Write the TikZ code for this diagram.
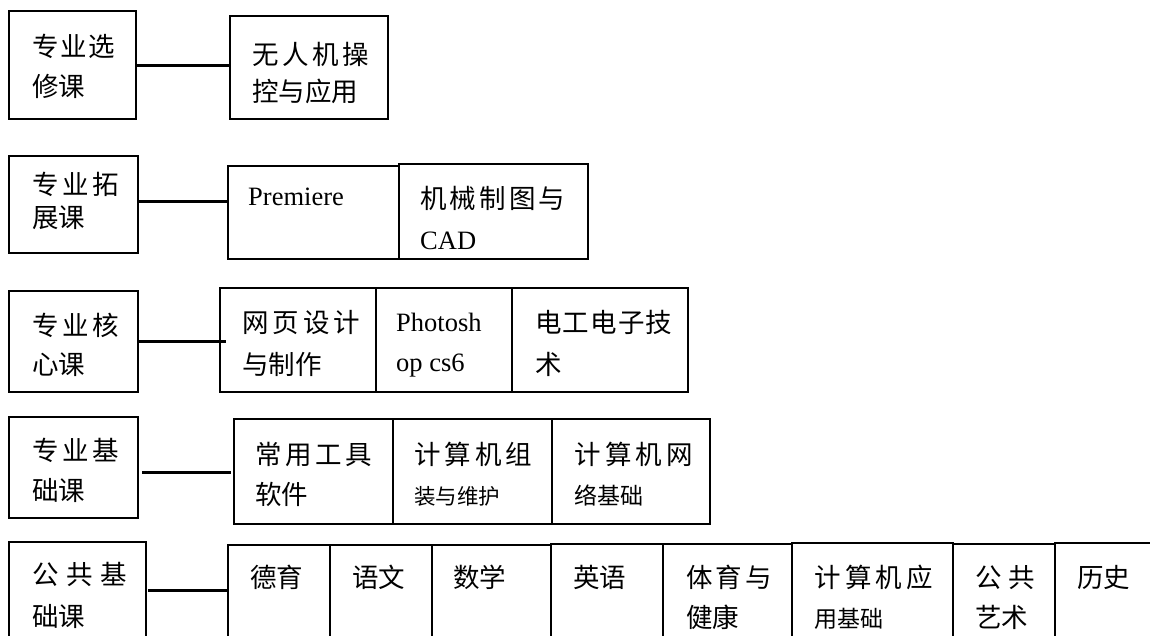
\documentclass[tikz,border=0pt]{standalone}
\usepackage{fontspec}
\setmainfont{Liberation Serif}
\newfontfamily\cjk{Noto Sans CJK SC}
\usetikzlibrary{calc}
\newcommand\sprd[2]{\makebox[#1][s]{#2}}
\newcommand\bx[5]{\node[box, minimum width={(#4-#2)*1pt}, minimum height={(#5-#3)*1pt}] (#1) at ({(#2+#4)/2},{(#3+#5)/2}) {};}
\begin{document}
\begin{tikzpicture}[x=1pt,y=-1pt,
  box/.style={draw, line width=1.3pt, inner sep=0pt, outer sep=0pt},
  conn/.style={line width=3pt},
  txt/.style={anchor=north west, inner sep=0pt, align=left, font=\fontsize{26.5}{#1}\selectfont\cjk},
  txt/.default=40]
\useasboundingbox (0,0) rectangle (1150,635);
\clip (0,0) rectangle (1150,635);
% row 1
\bx{l1}{9}{11}{136}{119}
\bx{r1}{230}{16}{388}{119}
% row 2
\bx{l2}{9}{156}{138}{253}
\bx{r2a}{228}{166}{399}{259}
\bx{r2b}{399}{164}{588}{259}
% row 3
\bx{l3}{9}{291}{138}{392}
\bx{r3a}{220}{288}{376}{392}
\bx{r3b}{376}{288}{512}{392}
\bx{r3c}{512}{288}{688}{392}
% row 4
\bx{l4}{9}{417}{138}{518}
\bx{r4a}{234}{419}{393}{524}
\bx{r4b}{393}{419}{552}{524}
\bx{r4c}{552}{419}{710}{524}
% row 5
\bx{l5}{9}{542}{146}{660}
\bx{r5a}{228}{545}{330}{660}
\bx{r5b}{330}{545}{432}{660}
\bx{r5c}{432}{545}{551}{660}
\bx{r5d}{551}{544}{663}{660}
\bx{r5e}{663}{544}{792}{660}
\bx{r5f}{792}{543}{953}{660}
\bx{r5g}{953}{544}{1055}{660}
\bx{r5h}{1055}{543}{1165}{660}
% connectors
\draw[conn] (l1.east) -- (l1.east -| r1.west);
\draw[conn] ($(l2.east)+(0,3.5pt)$) -- ($(l2.east -| r2a.west)+(0,3.5pt)$);
\draw[conn] (l3.east) -- ($(l3.east -| r3a.west)+(6pt,0)$);
\draw[conn] ($(l4.north east)+(4pt,-55pt)$) -- ($(l4.north east -| r4a.west)+(-3pt,-55pt)$);
\draw[conn] ($(l5.north east)+(2pt,-48pt)$) -- ($(l5.north east -| r5a.west)+(0,-48pt)$);
% texts
\node[txt=40] (t1) at (32,34) {\sprd{83pt}{专\hfil 业\hfil 选}\\修课};
\node[txt=37] (t2) at (252,42) {\sprd{117pt}{无\hfil 人\hfil 机\hfil 操}\\控与应用};
\node[txt=33] (t3) at (32,172) {\sprd{87pt}{专\hfil 业\hfil 拓}\\展课};
\node[txt] (t4) at (248,188) {{\rmfamily Premiere}};
\node[txt=41] (t5) at (420,186) {\sprd{145pt}{机\hfil 械\hfil 制\hfil 图\hfil 与}\\{\rmfamily CAD}};
\node[txt=39] (t6) at (32,313) {\sprd{87pt}{专\hfil 业\hfil 核}\\心课};
\node[txt=42] (t7) at (242,310) {\sprd{118pt}{网\hfil 页\hfil 设\hfil 计}\\与制作};
\node[txt] (t8) at (396,313) {{\rmfamily Photosh}\\{\rmfamily op cs6}};
\node[txt=42] (t9) at (535,310) {\sprd{137pt}{电\hfil 工\hfil 电\hfil 子\hfil 技}\\术};
\node[txt] (t10) at (32,438) {\sprd{87pt}{专\hfil 业\hfil 基}\\础课};
\node[txt] (t11) at (255,442) {\sprd{117pt}{常\hfil 用\hfil 工\hfil 具}\\软件};
\node[txt] (t12) at (414,442) {\sprd{118pt}{计\hfil 算\hfil 机\hfil 组}\\{\fontsize{21.5}{40}\selectfont 装与维护}};
\node[txt] (t13) at (574,442) {\sprd{119pt}{计\hfil 算\hfil 机\hfil 网}\\{\fontsize{23}{40}\selectfont 络基础}};
\node[txt=42] (t14) at (32,562) {\sprd{95pt}{公\hfil 共\hfil 基}\\础课};
\node[txt] (t15) at (250,565) {德育};
\node[txt] (t16) at (352,565) {语文};
\node[txt] (t17) at (453,565) {数学};
\node[txt] (t18) at (573,565) {英语};
\node[txt] (t19) at (686,565) {\sprd{86pt}{体\hfil 育\hfil 与}\\健康};
\node[txt] (t20) at (814,565) {\sprd{119pt}{计\hfil 算\hfil 机\hfil 应}\\{\fontsize{23}{40}\selectfont 用基础}};
\node[txt] (t21) at (975,565) {\sprd{60pt}{公\hfil 共}\\艺术};
\node[txt] (t22) at (1077,565) {历史};
\end{tikzpicture}
\end{document}
